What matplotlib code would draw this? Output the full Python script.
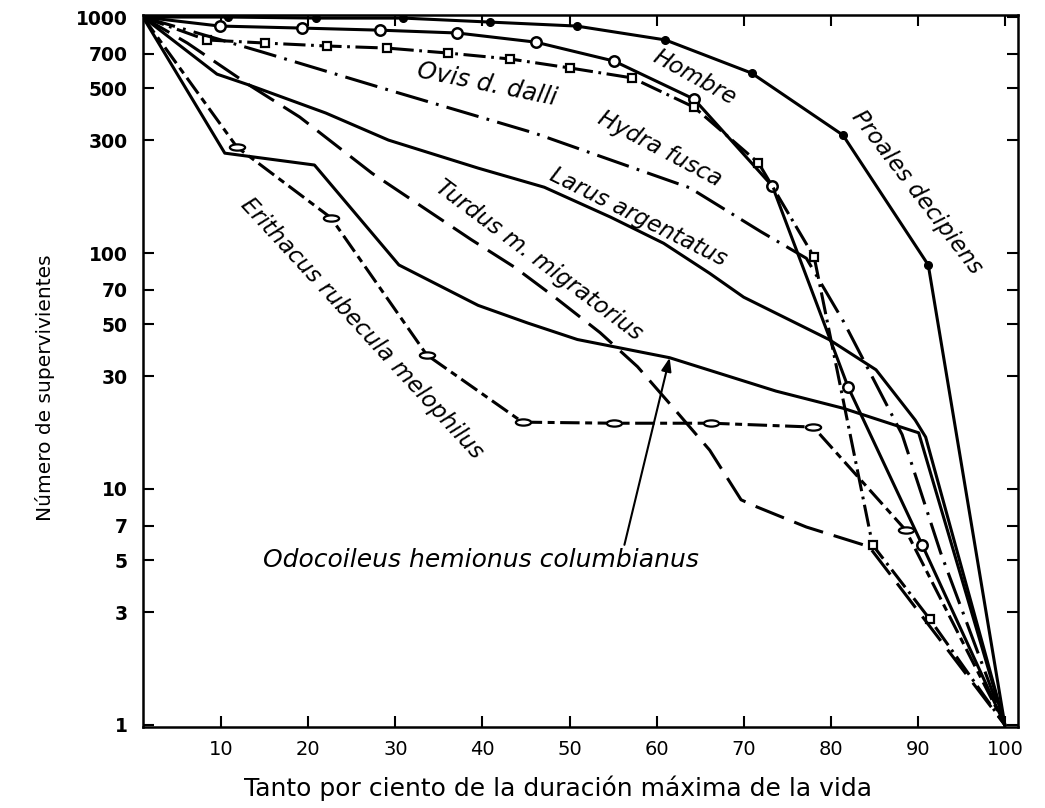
import numpy as np
import matplotlib.pyplot as plt
from matplotlib.markers import MarkerStyle
from matplotlib.transforms import Affine2D

plt.rcParams["lines.scale_dashes"] = False

# survivors (log scale) vs % of max life span
proales_x = [1, 10.8, 20.9, 30.9, 40.9, 50.8, 61.0, 70.9, 81.4, 91.2, 100]
proales_y = [1000, 1000, 990, 990, 952, 916, 800, 579, 316, 89, 1]

hombre_x = [1, 9.8, 19.3, 28.2, 37.1, 46.1, 55.1, 64.3, 73.3, 82.0, 90.5, 100]
hombre_y = [1000, 916, 898, 880, 856, 783, 651, 449, 192, 27, 5.8, 1]

ovis_x = [1, 8.3, 15.0, 22.1, 29.0, 36.0, 43.2, 50.1, 57.2, 64.3, 71.7, 78.1, 84.8, 91.4, 100]
ovis_y = [1000, 800, 776, 754, 739, 704, 664, 608, 552, 415, 241, 96, 5.8, 2.8, 1]

hydra_x = [1, 14.7, 29.2, 46.0, 63.8, 72.0, 77.2, 81.5, 88.2, 92.6, 100]
hydra_y = [1000, 711, 491, 322, 189, 123, 95, 51, 17, 5.4, 1]

larus_x = [1, 9.5, 13.2, 22.0, 29.2, 39.5, 47.1, 54.7, 60.8, 66.1, 70.0, 79.8, 85.2, 89.7, 90.9, 100]
larus_y = [1000, 573, 515, 392, 301, 229, 190, 142, 110, 82, 65, 43, 32, 19.6, 16.6, 1]

turdus_x = [1, 6.1, 13.2, 19.0, 27.3, 38.7, 43.7, 48.3, 53.5, 57.8, 61.5, 66.1, 69.7, 71.5, 77.2, 84.4, 100]
turdus_y = [1000, 776, 515, 377, 218, 114, 87, 65, 46, 33, 23, 14.6, 9.0, 8.4, 6.9, 5.7, 1]

odo_x = [1, 10.4, 20.7, 30.4, 39.5, 45.2, 50.9, 61.5, 73.7, 81.4, 90.1, 100]
odo_y = [1000, 265, 236, 89, 60, 50.5, 43, 36, 26, 22, 17.3, 1]

eri_x = [1, 11.8, 22.6, 33.6, 44.6, 55.1, 66.3, 78.0, 88.6, 100]
eri_y = [1000, 281, 141, 37, 19.2, 19.0, 19.0, 18.3, 6.7, 1]

yticks = [1, 3, 5, 7, 10, 30, 50, 70, 100, 300, 500, 700, 1000]
xticks = [10, 20, 30, 40, 50, 60, 70, 80, 90, 100]

fig = plt.figure(figsize=(10.45, 8.08), dpi=100)
ax = fig.add_axes([0.1368, 0.1002, 0.8373, 0.8812])
ax.set_yscale("log")

lw = 2.2
ax.plot(proales_x, proales_y, color="black", lw=lw, marker="o", ms=5.5,
        mfc="black", mec="black", markevery=list(range(1, 10)))
ax.plot(hombre_x, hombre_y, color="black", lw=lw, marker="o", ms=7.5,
        mfc="white", mec="black", mew=1.8, markevery=list(range(1, 11)))
ax.plot(ovis_x, ovis_y, color="black", lw=lw, dashes=(16, 4, 2, 4), marker="s",
        ms=5.5, mfc="white", mec="black", mew=1.6, markevery=list(range(1, 14)))
ax.plot(hydra_x, hydra_y, color="black", lw=lw, dashes=(24, 6, 2, 6))
ax.plot(larus_x, larus_y, color="black", lw=lw)
ax.plot(turdus_x, turdus_y, color="black", lw=lw, dashes=(22, 8))
ax.plot(odo_x, odo_y, color="black", lw=lw)
oval = MarkerStyle("o", transform=Affine2D().scale(2.2, 0.9))
ax.plot(eri_x, eri_y, color="black", lw=lw, dashes=(14, 4, 5, 4), marker=oval,
        ms=5, mfc="white", mec="black", mew=1.6, markevery=list(range(1, 9)))

ax.set_xlim(1, 101.5)
ax.set_ylim(0.98, 1020)
ax.set_yticks(yticks)
ax.set_yticklabels([str(v) for v in yticks])
ax.yaxis.set_minor_locator(plt.NullLocator())
ax.set_xticks(xticks)
ax.set_xticklabels([str(v) for v in xticks])

ax.tick_params(axis="y", direction="in", length=8, width=1.5, right=True,
               labelsize=13.5, pad=11)
ax.tick_params(axis="x", direction="in", length=8, width=1.5, top=True,
               labelsize=14, pad=9)
for lab in ax.get_yticklabels():
    lab.set_fontweight("bold")
for s in ax.spines.values():
    s.set_linewidth(1.8)

ax.set_ylabel("Número de supervivientes", fontsize=14.5)
ax.yaxis.set_label_coords(-0.10, 0.476)
ax.set_xlabel("Tanto por ciento de la duración máxima de la vida", fontsize=18)
ax.xaxis.set_label_coords(0.474, -0.068)

tkw = dict(fontsize=16.5, style="italic", ha="center", va="center",
           rotation_mode="anchor")
ax.text(40.5, 520, "Ovis d. dalli", rotation=-11.5, fontsize=17.5,
        style="italic", ha="center", va="center", rotation_mode="anchor")
ax.text(64.4, 552, "Hombre", rotation=-29, **tkw)
ax.text(89.9, 181, "Proales decipiens", rotation=-52.5, **tkw)
ax.text(60.4, 276, "Hydra fusca", rotation=-28, **tkw)
ax.text(57.9, 142, "Larus argentatus", rotation=-26.5, **tkw)
ax.text(46.5, 93, "Turdus m. migratorius", rotation=-36.8, **tkw)
ax.text(26.1, 48, "Erithacus rubecula melophilus", rotation=-47.3, **tkw)
ax.text(39.8, 5.0, "Odocoileus hemionus columbianus", fontsize=18,
        style="italic", ha="center", va="center")
ax.annotate("", xy=(odo_x[7], odo_y[7]), xytext=(56.3, 5.8),
            arrowprops=dict(arrowstyle="-|>,head_length=0.8,head_width=0.3",
                            color="black", lw=1.5, shrinkA=0, shrinkB=0))

fig.savefig("out.png", dpi=100)
